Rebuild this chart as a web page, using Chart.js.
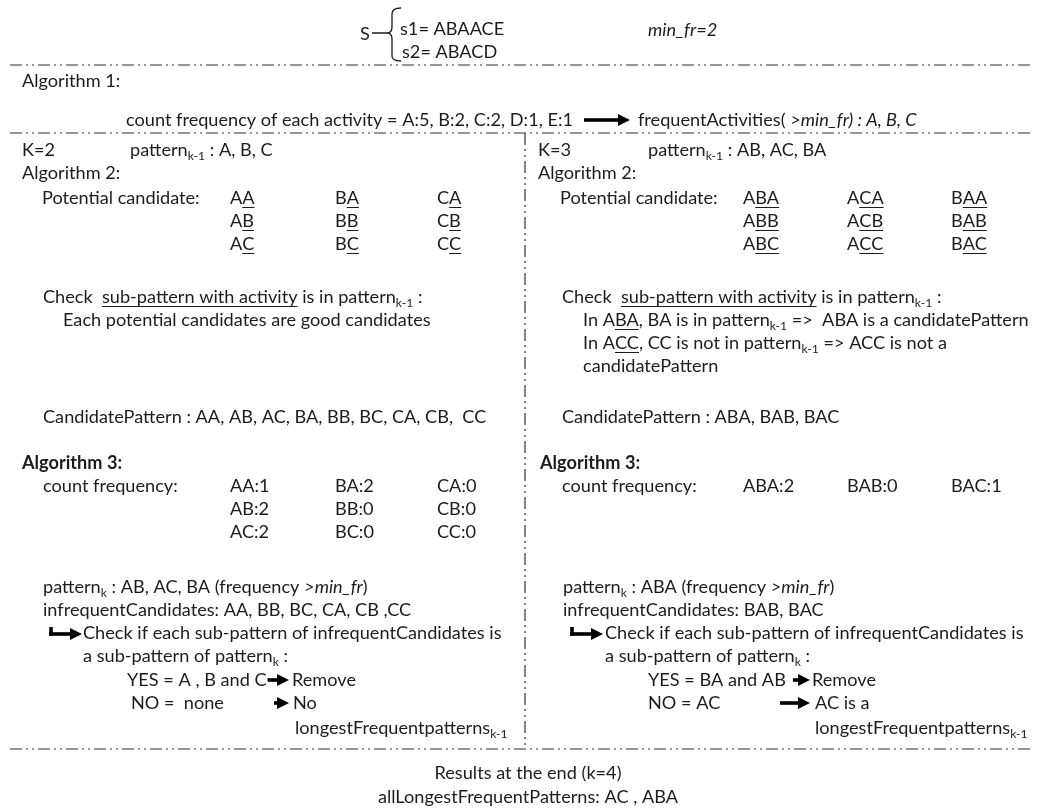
<!DOCTYPE html>
<html>
<head>
<meta charset="utf-8">
<script src="https://cdn.jsdelivr.net/npm/chart.js@4.4.1/dist/chart.umd.min.js"></script>
<style>
  html, body { margin: 0; padding: 0; background: #fff; }
  canvas { display: block; }
</style>
</head>
<body>
<canvas id="chart" width="1040" height="810"></canvas>
<script>
// --- data ---
const sequences          = ['ABAACE', 'ABACD'];
const minFr              = 2;
const activities         = ['A', 'B', 'C', 'D', 'E'];
const activityCounts     = [5, 2, 2, 1, 1];
const frequentActivities = ['A', 'B', 'C'];

const k2Prev       = ['A', 'B', 'C'];
const k2Candidates = [['AA', 'AB', 'AC'], ['BA', 'BB', 'BC'], ['CA', 'CB', 'CC']];
const k2Counts     = [[1, 2, 2], [2, 0, 0], [0, 0, 0]];

const k3Prev       = ['AB', 'AC', 'BA'];
const k3Candidates = [['ABA', 'ABB', 'ABC'], ['ACA', 'ACB', 'ACC'], ['BAA', 'BAB', 'BAC']];
const k3Kept       = ['ABA', 'BAB', 'BAC'];
const k3Counts     = [2, 0, 1];

const finalPatterns = ['AC', 'ABA'];

const FONT     = 'Lato, "Open Sans", sans-serif';
const BASE_PX  = 18;
const SUB_PX   = 12;
const INK      = '#1c1c1c';
const DASH_DOT = [12, 4, 2, 4, 2, 4];

let squeeze = 1;

// markup: _{sub}  [underline]  *italic*
function parse(str) {
    const runs = [];
    str.split(/(_\{[^}]*\}|\[[^\]]*\]|\*[^*]*\*)/).forEach((p) => {
        if (!p) return;
        if (p.startsWith('_{')) runs.push({ t: p.slice(2, -1), sub: true });
        else if (p.startsWith('[')) runs.push({ t: p.slice(1, -1), u: true });
        else if (p.startsWith('*')) runs.push({ t: p.slice(1, -1), i: true });
        else runs.push({ t: p });
    });
    return runs;
}

function fontFor(run, bold) {
    const size = run.sub ? SUB_PX : BASE_PX;
    return `${run.i ? 'italic ' : ''}${bold ? 'bold ' : ''}${size}px ${FONT}`;
}

function textWidth(ctx, runs, bold) {
    let w = 0;
    runs.forEach((r) => { ctx.font = fontFor(r, bold); w += ctx.measureText(r.t).width; });
    return w * squeeze;
}

// draws one line of marked-up text, returns the x value where it ends
function text(chart, x, y, str, opts = {}) {
    const { ctx, scales } = chart;
    const runs = parse(str);
    let px = scales.x.getPixelForValue(x);
    const py = scales.y.getPixelForValue(y);
    const total = textWidth(ctx, runs, opts.bold);
    if (opts.center) px -= total / 2;
    ctx.save();
    ctx.translate(px, py);
    ctx.scale(squeeze, 1);
    ctx.fillStyle = INK;
    ctx.strokeStyle = INK;
    ctx.textBaseline = 'alphabetic';
    let cx = 0;
    runs.forEach((r) => {
        ctx.font = fontFor(r, opts.bold);
        const dy = r.sub ? 4 : 0;
        ctx.fillText(r.t, cx, dy);
        const w = ctx.measureText(r.t).width;
        if (r.u) {
            ctx.lineWidth = 1;
            ctx.beginPath();
            ctx.moveTo(cx, 3.5);
            ctx.lineTo(cx + w, 3.5);
            ctx.stroke();
        }
        cx += w;
    });
    ctx.restore();
    return scales.x.getValueForPixel(px + total);
}

function dashLine(chart, x1, y1, x2, y2) {
    const { ctx, scales } = chart;
    ctx.save();
    ctx.setLineDash(DASH_DOT);
    ctx.lineWidth = 1.2;
    ctx.strokeStyle = '#333';
    ctx.beginPath();
    ctx.moveTo(scales.x.getPixelForValue(x1), scales.y.getPixelForValue(y1));
    ctx.lineTo(scales.x.getPixelForValue(x2), scales.y.getPixelForValue(y2));
    ctx.stroke();
    ctx.restore();
}

function arrow(chart, x1, x2, y) {
    const { ctx, scales } = chart;
    const a = scales.x.getPixelForValue(x1);
    const b = scales.x.getPixelForValue(x2);
    const c = scales.y.getPixelForValue(y);
    ctx.save();
    ctx.fillStyle = '#000';
    ctx.fillRect(a, c - 1.8, b - a - 10, 3.6);
    ctx.beginPath();
    ctx.moveTo(b - 12, c - 6);
    ctx.lineTo(b, c);
    ctx.lineTo(b - 12, c + 6);
    ctx.closePath();
    ctx.fill();
    ctx.restore();
}

function bentArrow(chart, x1, x2, yTop, y) {
    const { ctx, scales } = chart;
    const a = scales.x.getPixelForValue(x1);
    const t = scales.y.getPixelForValue(yTop);
    const c = scales.y.getPixelForValue(y);
    ctx.save();
    ctx.fillStyle = '#000';
    ctx.fillRect(a - 1.8, t, 3.6, c - t + 1.8);
    ctx.restore();
    arrow(chart, x1 - 1.8, x2, y);
}

function brace(chart) {
    const { ctx, scales } = chart;
    const X = (v) => scales.x.getPixelForValue(v);
    const Y = (v) => scales.y.getPixelForValue(v);
    ctx.save();
    ctx.strokeStyle = INK;
    ctx.lineWidth = 1.3;
    ctx.beginPath();
    ctx.moveTo(X(372), Y(33));
    ctx.lineTo(X(387), Y(33));
    ctx.quadraticCurveTo(X(392), Y(33), X(392), Y(27));
    ctx.lineTo(X(392), Y(14));
    ctx.quadraticCurveTo(X(392), Y(8), X(401), Y(8));
    ctx.moveTo(X(387), Y(33));
    ctx.quadraticCurveTo(X(392), Y(33), X(392), Y(39));
    ctx.lineTo(X(392), Y(56));
    ctx.quadraticCurveTo(X(392), Y(61), X(401), Y(61));
    ctx.stroke();
    ctx.restore();
}

function underlineLast(code, n) {
    return code.slice(0, code.length - n) + '[' + code.slice(code.length - n) + ']';
}

const diagramPlugin = {
    id: 'diagram',
    afterDraw(chart) {
        const { ctx } = chart;
        ctx.font = `${BASE_PX}px ${FONT}`;
        squeeze = 0.975 * 377 / ctx.measureText('Each potential candidates are good candidates').width;

        // header
        text(chart, 360, 40, 'S');
        brace(chart);
        text(chart, 400, 35, 's1= ' + sequences[0]);
        text(chart, 402, 58, 's2= ' + sequences[1]);
        text(chart, 648, 36, '*min_fr=' + minFr + '*');

        dashLine(chart, 10, 65, 1032, 65);

        // algorithm 1
        const counts = activities.map((a, i) => a + ':' + activityCounts[i]).join(', ');
        text(chart, 22, 87, 'Algorithm 1:');
        const end1 = text(chart, 126, 126, 'count frequency of each activity = ' + counts);
        arrow(chart, Math.max(end1 + 8, 584), 630, 120);
        text(chart, 638, 126, 'frequentActivities( *>min_fr) : ' + frequentActivities.join(', ') + '*');

        dashLine(chart, 10, 133, 1032, 133);
        dashLine(chart, 525, 133, 525, 749);

        // k = 2
        text(chart, 22, 156, 'K=2');
        text(chart, 130, 156, 'pattern_{k-1} : ' + k2Prev.join(', '));
        text(chart, 22, 179, 'Algorithm 2:');
        text(chart, 42, 204, 'Potential candidate:');
        const colsL = [230, 335, 437];
        k2Candidates.forEach((col, c) => col.forEach((code, r) => {
            text(chart, colsL[c], 204 + r * 23, underlineLast(code, 1));
        }));
        text(chart, 43, 303, 'Check  [sub-pattern with activity] is in pattern_{k-1} :');
        text(chart, 63, 326, 'Each potential candidates are good candidates');
        text(chart, 43, 423, 'CandidatePattern : ' + k2Candidates.flat().slice(0, 8).join(', ') + ',  ' + k2Candidates[2][2]);
        text(chart, 22, 469, 'Algorithm 3:', { bold: true });
        text(chart, 43, 492, 'count frequency:');
        k2Candidates.forEach((col, c) => col.forEach((code, r) => {
            text(chart, colsL[c], 492 + r * 23, code + ':' + k2Counts[c][r]);
        }));
        text(chart, 43, 593, 'pattern_{k} : AB, AC, BA (frequency *>min_fr*)');
        text(chart, 43, 616, 'infrequentCandidates: AA, BB, BC, CA, CB ,CC');
        bentArrow(chart, 51, 82, 627, 634);
        text(chart, 83, 639, 'Check if each sub-pattern of infrequentCandidates is');
        text(chart, 83, 662, 'a sub-pattern of pattern_{k} :');
        const endYesL = text(chart, 127, 686, 'YES = A , B and C');
        arrow(chart, endYesL + 1, 289, 680);
        text(chart, 292, 686, 'Remove');
        text(chart, 131, 709, 'NO =  none');
        arrow(chart, 274, 289, 703);
        text(chart, 293, 709, 'No');
        text(chart, 295, 734, 'longestFrequentpatterns_{k-1}');

        // k = 3
        text(chart, 538, 156, 'K=3');
        text(chart, 648, 156, 'pattern_{k-1} : ' + k3Prev.join(', '));
        text(chart, 538, 179, 'Algorithm 2:');
        text(chart, 560, 204, 'Potential candidate:');
        const colsR = [743, 847, 951];
        k3Candidates.forEach((col, c) => col.forEach((code, r) => {
            text(chart, colsR[c], 204 + r * 23, underlineLast(code, 2));
        }));
        text(chart, 562, 303, 'Check  [sub-pattern with activity] is in pattern_{k-1} :');
        text(chart, 583, 326, 'In A[BA], BA is in pattern_{k-1} =>  ABA is a candidatePattern');
        text(chart, 583, 349, 'In A[CC], CC is not in pattern_{k-1} => ACC is not a');
        text(chart, 583, 372, 'candidatePattern');
        text(chart, 562, 423, 'CandidatePattern : ' + k3Kept.join(', '));
        text(chart, 540, 469, 'Algorithm 3:', { bold: true });
        text(chart, 562, 492, 'count frequency:');
        k3Kept.forEach((code, c) => {
            text(chart, colsR[c], 492, code + ':' + k3Counts[c]);
        });
        text(chart, 563, 593, 'pattern_{k} : ABA (frequency *>min_fr*)');
        text(chart, 563, 616, 'infrequentCandidates: BAB, BAC');
        bentArrow(chart, 572, 603, 627, 634);
        text(chart, 605, 639, 'Check if each sub-pattern of infrequentCandidates is');
        text(chart, 605, 662, 'a sub-pattern of pattern_{k} :');
        const endYesR = text(chart, 648, 686, 'YES = BA and AB');
        arrow(chart, Math.max(endYesR + 7, 780), 810, 680);
        text(chart, 812, 686, 'Remove');
        text(chart, 648, 709, 'NO = AC');
        arrow(chart, 780, 810, 703);
        text(chart, 815, 709, 'AC is a');
        text(chart, 815, 734, 'longestFrequentpatterns_{k-1}');

        dashLine(chart, 10, 749, 1032, 749);

        // results
        text(chart, 528, 779, 'Results at the end (k=4)', { center: true });
        text(chart, 528, 803, 'allLongestFrequentPatterns: ' + finalPatterns.join(' , '), { center: true });
    }
};

new Chart(document.getElementById('chart'), {
    type: 'scatter',
    data: { datasets: [] },
    options: {
        responsive: false,
        animation: false,
        events: [],
        layout: { padding: 0 },
        plugins: { legend: { display: false }, tooltip: { enabled: false } },
        scales: {
            x: { type: 'linear', min: 0, max: 1040, display: false },
            y: { type: 'linear', min: 0, max: 810, reverse: true, display: false }
        }
    },
    plugins: [diagramPlugin]
});
</script>
</body>
</html>
